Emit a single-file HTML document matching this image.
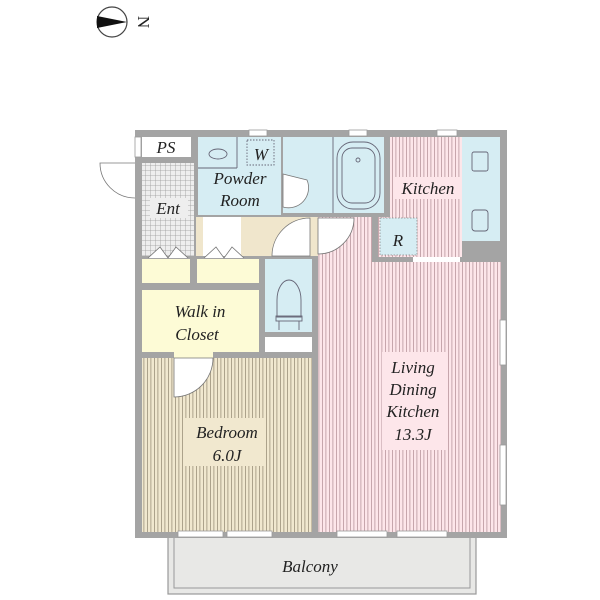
<!DOCTYPE html>
<html><head><meta charset="utf-8"><style>
html,body{margin:0;padding:0;background:#fff;width:600px;height:600px;overflow:hidden}
svg{display:block}
text{font-family:"Liberation Serif",serif;font-style:italic;fill:#222;font-size:17px;text-anchor:middle}
</style></head><body>
<svg width="600" height="600" viewBox="0 0 600 600" xmlns="http://www.w3.org/2000/svg">
<defs>
<pattern id="pk" width="3.5" height="10" patternUnits="userSpaceOnUse"><rect width="3.5" height="10" fill="#fde6ea"/><rect x="0" width="0.8" height="10" fill="#b8979d"/></pattern>
<pattern id="bg" width="3.5" height="10" patternUnits="userSpaceOnUse"><rect width="3.5" height="10" fill="#f1e8cf"/><rect x="0" width="0.8" height="10" fill="#9c907a"/></pattern>
<pattern id="gr" width="5" height="5" patternUnits="userSpaceOnUse"><rect width="5" height="5" fill="#eee"/><path d="M0 0H5M0 0V5" stroke="#999" stroke-width="0.8"/></pattern>
</defs>
<circle cx="112" cy="22" r="15" fill="#fff" stroke="#444" stroke-width="1.2"/>
<path d="M97 16 L127 22 L97 28 Z" fill="#111"/>
<text x="138" y="22" font-size="12" transform="rotate(90 138 22)" style="font-style:normal">N</text>
<rect x="168" y="537" width="308" height="57" fill="#e8e8e6" stroke="#999" stroke-width="1.2"/>
<rect x="174" y="537" width="296" height="51" fill="none" stroke="#999" stroke-width="1"/>
<text x="310" y="572">Balcony</text>
<rect x="135" y="130" width="372" height="408" fill="#a4a4a4"/>
<rect x="142" y="137" width="49" height="20" fill="#fff"/>
<rect x="142" y="163" width="52" height="93" fill="url(#gr)"/>
<rect x="198" y="137" width="83" height="78" fill="#d6edf3"/>
<rect x="283" y="137" width="101" height="76" fill="#d6edf3"/>
<rect x="390" y="137" width="72" height="120" fill="url(#pk)"/>
<rect x="462" y="137" width="38" height="104" fill="#d6edf3"/>
<rect x="196" y="217" width="122" height="39" fill="#f0e6cc"/>
<rect x="203" y="217" width="38" height="39" fill="#fff"/>
<rect x="318" y="217" width="54" height="45" fill="url(#pk)"/>
<rect x="318" y="262" width="183" height="270" fill="url(#pk)"/>
<rect x="378" y="217" width="12" height="40" fill="url(#pk)"/>
<rect x="380" y="218" width="37" height="37" fill="#d6edf3" stroke="#888" stroke-dasharray="1.5 1.5" stroke-width="0.8"/>
<rect x="413" y="257" width="47" height="5" fill="#fff"/>
<rect x="142" y="259" width="48" height="24" fill="#fdfbd6"/>
<rect x="197" y="259" width="62" height="24" fill="#fdfbd6"/>
<rect x="142" y="290" width="117" height="62" fill="#fdfbd6"/>
<rect x="174" y="352" width="39" height="6" fill="#fdfbd6"/>
<rect x="265" y="259" width="47" height="73" fill="#d6edf3"/>
<rect x="265" y="337" width="47" height="15" fill="#fff"/>
<rect x="142" y="358" width="170" height="174" fill="url(#bg)"/>
<g fill="#fff" stroke="#999" stroke-width="0.8">
<rect x="249" y="130" width="18" height="6"/>
<rect x="349" y="130" width="18" height="6"/>
<rect x="437" y="130" width="20" height="6"/>
<rect x="135" y="137" width="6" height="20"/>
<rect x="178" y="531" width="45" height="6"/>
<rect x="227" y="531" width="45" height="6"/>
<rect x="337" y="531" width="50" height="6"/>
<rect x="397" y="531" width="50" height="6"/>
<rect x="500" y="320" width="6" height="45"/>
<rect x="500" y="445" width="6" height="60"/>
</g>
<g fill="#fff" stroke="#777" stroke-width="0.8">
<path d="M135 163 L100 163 A35 35 0 0 0 135 198"/>
<path d="M174 358 L213 358 A39 39 0 0 1 174 397 Z"/>
<path d="M318 218 L354 218 A36 36 0 0 1 318 254 Z"/>
<path d="M310 256 L272 256 A38 38 0 0 1 310 218 Z"/>
<path d="M283 174 L307 180 A20 20 0 0 1 283 207 Z"/>
<path d="M148 258 L160 247 L168 258 L176 247 L188 258"/>
<path d="M204 258 L216 247 L224 258 L232 247 L244 258"/>
</g>
<g fill="none" stroke="#667" stroke-width="0.9">
<line x1="198" y1="168" x2="237" y2="168"/><line x1="237" y1="137" x2="237" y2="168"/>
<ellipse cx="218" cy="154" rx="9" ry="5"/>
<rect x="247" y="140" width="27" height="25" stroke-dasharray="1.5 1.5"/>
<line x1="333" y1="137" x2="333" y2="213"/>
<rect x="337" y="142" width="43" height="67" rx="16"/>
<rect x="342" y="148" width="33" height="55" rx="10"/>
<circle cx="358" cy="160" r="2"/>
<rect x="472" y="152" width="16" height="19" rx="2"/>
<rect x="472" y="210" width="16" height="21" rx="3"/>
<path d="M277 317 L277 300 A12 20 0 0 1 301 300 L301 317 Z"/>
<rect x="276" y="316" width="26" height="5"/>
<line x1="279" y1="321" x2="279" y2="330"/><line x1="299" y1="321" x2="299" y2="330"/>
</g>
<g>
<text x="166" y="153">PS</text>
<rect x="150" y="198" width="38" height="20" fill="#eee"/>
<text x="168" y="214">Ent</text>
<text x="261" y="160">W</text>
<text x="240" y="184">Powder</text>
<text x="240" y="206">Room</text>
<rect x="395" y="177" width="66" height="22" fill="#fde6ea"/>
<text x="428" y="194">Kitchen</text>
<text x="398" y="246">R</text>
<text x="200" y="317">Walk in</text>
<text x="197" y="340">Closet</text>
<rect x="183" y="418" width="82" height="48" fill="#f1e8cf"/>
<text x="227" y="438">Bedroom</text>
<text x="227" y="461">6.0J</text>
<rect x="382" y="352" width="66" height="98" fill="#fde6ea"/>
<text x="413" y="373">Living</text>
<text x="413" y="395">Dining</text>
<text x="413" y="417">Kitchen</text>
<text x="413" y="440">13.3J</text>
</g>
</svg>
</body></html>
